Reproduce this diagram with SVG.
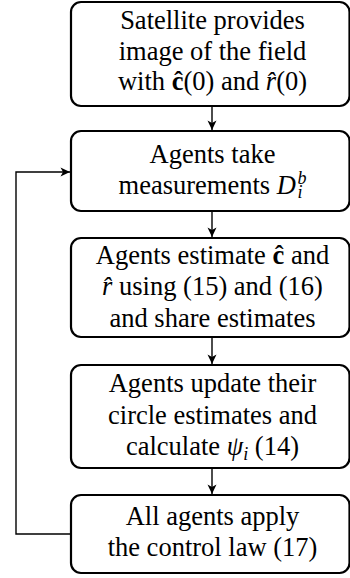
<svg xmlns="http://www.w3.org/2000/svg" width="350" height="578" viewBox="0 0 350 578">
<style>
.box{fill:#fff;stroke:#000;stroke-width:2.2}
.t{font-family:"Liberation Serif","Times New Roman",serif;font-size:26.5px;text-anchor:middle;fill:#000}
.m{font-style:italic}
.b{font-weight:bold}
.c{fill:none;stroke:#000;stroke-width:1.4}
</style>
<defs>
<marker id="ah" markerWidth="12" markerHeight="12" refX="9.5" refY="4.5" orient="auto" markerUnits="userSpaceOnUse" overflow="visible">
<path d="M0,0 L9.5,4.5 L0,9 L2.5,4.5 Z" fill="#000"/>
</marker>
</defs>
<rect width="350" height="578" fill="#fff"/>
<g id="connectors">
<line class="c" x1="212" y1="107" x2="212" y2="130" marker-end="url(#ah)"/>
<line class="c" x1="212" y1="212" x2="212" y2="237" marker-end="url(#ah)"/>
<line class="c" x1="212" y1="338" x2="212" y2="364" marker-end="url(#ah)"/>
<line class="c" x1="212" y1="469" x2="212" y2="494" marker-end="url(#ah)"/>
<polyline class="c" points="71,534 16,534 16,172 70,172" marker-end="url(#ah)"/>
</g>
<g id="n1">
<rect class="box" x="71" y="2" width="278.5" height="104" rx="10"/>
<text class="t" x="212.5" y="29">Satellite provides</text>
<text class="t" x="212.5" y="59.5">image of the field</text>
<text class="t" x="212.5" y="90">with <tspan class="b">ĉ</tspan>(0) and <tspan class="m">r&#x302;</tspan>(0)</text>
</g>
<g id="n2">
<rect class="box" x="71" y="131" width="278.5" height="80" rx="10"/>
<text class="t" x="212.5" y="162.5">Agents take</text>
<text class="t" x="212.5" y="193.5">measurements <tspan class="m">D</tspan><tspan class="m" font-size="18" dx="1.5" dy="-9.5">b</tspan><tspan class="m" font-size="18" dx="-9" dy="13.5">i</tspan></text>
</g>
<g id="n3">
<rect class="box" x="71" y="238" width="278.5" height="99" rx="10"/>
<text class="t" x="212.5" y="264">Agents estimate <tspan class="b">ĉ</tspan> and</text>
<text class="t" x="212.5" y="295"><tspan class="m">r&#x302;</tspan> using (15) and (16)</text>
<text class="t" x="212.5" y="326.5">and share estimates</text>
</g>
<g id="n4">
<rect class="box" x="71" y="365" width="278.5" height="103" rx="10"/>
<text class="t" x="212.5" y="392">Agents update their</text>
<text class="t" x="212.5" y="423.5">circle estimates and</text>
<text class="t" x="212.5" y="455">calculate <tspan class="m">ψ</tspan><tspan class="m" font-size="18" dy="5">i</tspan><tspan dy="-5"> (14)</tspan></text>
</g>
<g id="n5">
<rect class="box" x="71" y="495" width="278.5" height="78" rx="10"/>
<text class="t" x="212.5" y="525">All agents apply</text>
<text class="t" x="212.5" y="556">the control law (17)</text>
</g>
</svg>
